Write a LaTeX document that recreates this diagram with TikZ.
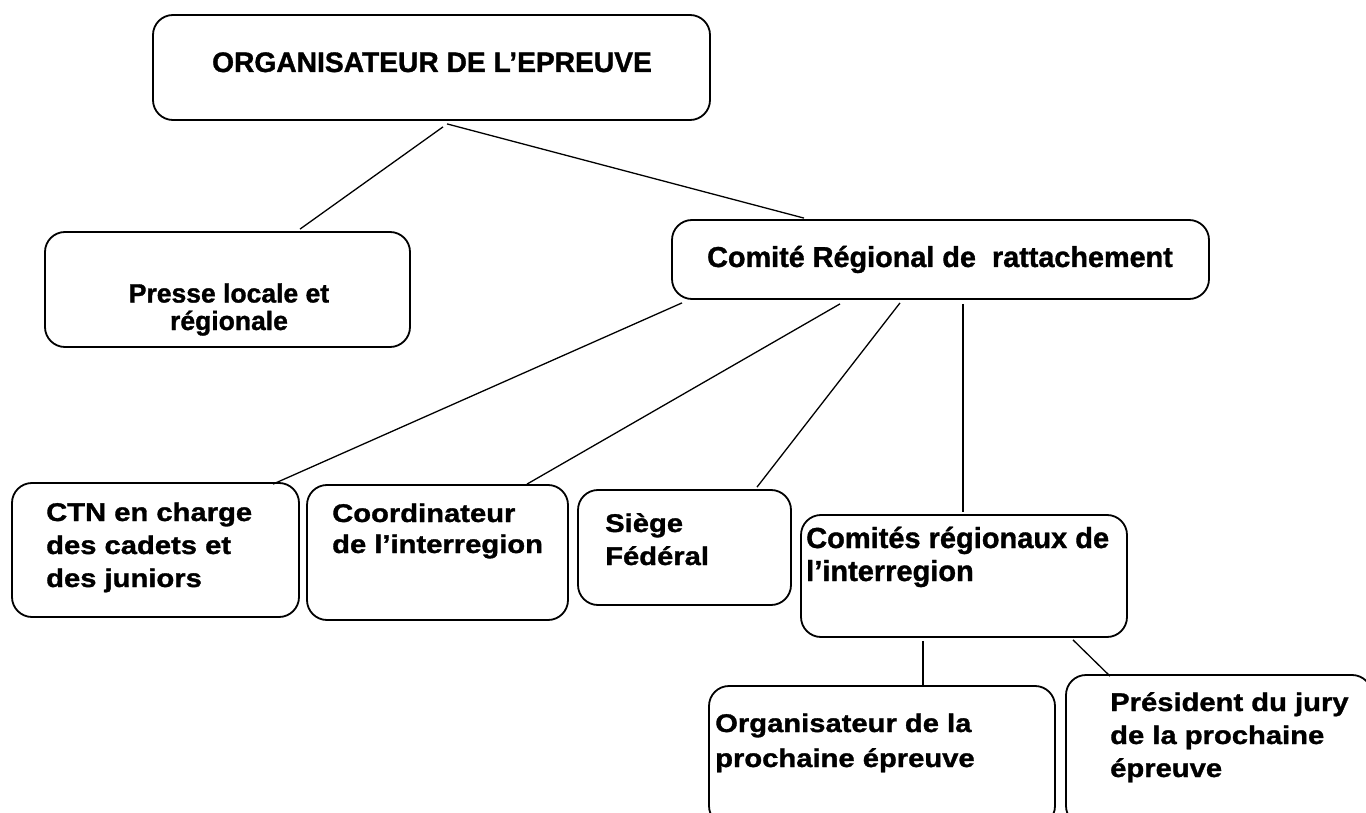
\documentclass[tikz,border=0pt]{standalone}
\usepackage{fontspec}
\setmainfont{Liberation Sans}[BoldFeatures={FakeBold=1.2}]
\newfontfamily\widefont{Liberation Sans}[FakeStretch=1.14, BoldFeatures={FakeBold=1.2}]
\usepackage{tikz}

\tikzset{
  box/.style={draw, line width=1.8pt, rounded corners=20pt, inner sep=0pt},
  txt/.style={inner sep=0pt, anchor=base west, align=left, font=\widefont\bfseries\fontsize{25.6}{33}\selectfont},
  midtxt/.style={txt, anchor=base, align=center},
  link/.style={line width=1.3pt}
}

\begin{document}
\begin{tikzpicture}[x=1pt, y=-1pt]
        \clip (0,0) rectangle (1366,813);

        % Draw the boxes
        \node[box, minimum width=557pt, minimum height=105pt] (org) at (431.5,67.5) {};
        \node[box, minimum width=365pt, minimum height=115pt] (presse) at (227.5,289.5) {};
        \node[box, minimum width=537pt, minimum height=79pt] (crr) at (940.5,259.5) {};
        \node[box, minimum width=287pt, minimum height=134pt] (ctn) at (155.5,550) {};
        \node[box, minimum width=261pt, minimum height=135pt] (coord) at (437.5,552.5) {};
        \node[box, minimum width=213pt, minimum height=115pt] (siege) at (684.5,547.5) {};
        \node[box, minimum width=326pt, minimum height=122pt] (cri) at (964,576) {};
        \node[box, minimum width=346pt, minimum height=140pt] (orgpro) at (882,756) {};
        \node[box, minimum width=306pt, minimum height=151pt] (pres) at (1219,750.5) {};

        % Texts in the boxes (the y is the baseline of the last line)
        \node[midtxt, font=\bfseries\fontsize{28.2}{33}\selectfont] (orgtxt) at (432,72) {ORGANISATEUR DE L’EPREUVE};
        \node[midtxt, font=\bfseries\fontsize{26.5}{27.5}\selectfont] (pressetxt) at (229,330) {Presse locale et\\régionale};
        \node[midtxt, font=\bfseries\fontsize{28.8}{33}\selectfont] (crrtxt) at (940,267) {Comité Régional de~~rattachement};
        \node[txt] (ctntxt) at (46,587) {CTN en charge\\des cadets et\\des juniors};
        \node[txt, font=\widefont\bfseries\fontsize{25.6}{31}\selectfont] (coordtxt) at (332,553) {Coordinateur\\de l’interregion};
        \node[txt] (siegetxt) at (605,565) {Siège\\Fédéral};
        \node[txt, font=\bfseries\fontsize{29}{33}\selectfont] (critxt) at (806,581) {Comités régionaux de\\l’interregion};
        \node[txt, font=\widefont\bfseries\fontsize{25.6}{35}\selectfont] (orgprotxt) at (715,767) {Organisateur de la\\prochaine épreuve};
        \node[txt] (prestxt) at (1110,777) {Président du jury\\de la prochaine\\épreuve};

        % Draw the links
        \draw[link] ([xshift=11.5pt,yshift=-6pt]org.south) -- ([xshift=72.5pt,yshift=2pt]presse.north);
        \draw[link] ([xshift=15.5pt,yshift=-3pt]org.south) -- ([xshift=-136.5pt,yshift=1pt]crr.north);
        \draw[link] ([xshift=-258.5pt,yshift=-3pt]crr.south) -- ([xshift=117.5pt,yshift=-2pt]ctn.north);
        \draw[link] ([xshift=-100.5pt,yshift=-4pt]crr.south) -- ([xshift=89.5pt]coord.north);
        \draw[link] ([xshift=-40.5pt,yshift=-3pt]crr.south) -- ([xshift=72.5pt,yshift=2pt]siege.north);
        \draw[link] ([xshift=22.5pt,yshift=-4pt]crr.south) -- ([xshift=-1pt,yshift=2pt]cri.north);
        \draw[link] ([xshift=-41pt,yshift=-3pt]cri.south) -- ([xshift=41pt]orgpro.north);
        \draw[link] ([xshift=109pt,yshift=-2pt]cri.south) -- ([xshift=-109pt,yshift=-2pt]pres.north);

\end{tikzpicture}
\end{document}
